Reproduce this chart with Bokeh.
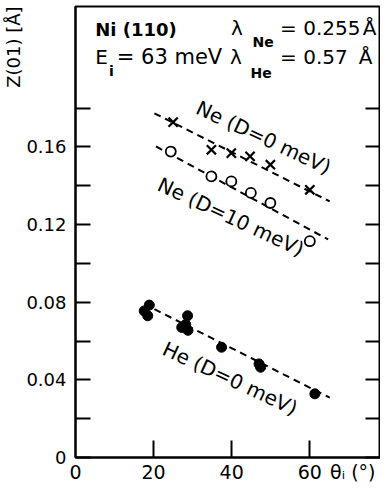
import math
from bokeh.plotting import figure
from bokeh.models import Label, FixedTicker, LinearAxis, Range1d, CustomJSTickFormatter, Title
from bokeh.embed import file_html
from bokeh.resources import INLINE

# ---- data ----
ne0_theta = [25.0, 34.8, 39.9, 44.7, 49.9, 60.0]
ne0_z = [0.1727, 0.1585, 0.1568, 0.1551, 0.1508, 0.1379]

ne10_theta = [24.4, 34.8, 39.9, 44.9, 49.9, 60.0]
ne10_z = [0.1576, 0.1448, 0.1422, 0.1363, 0.1311, 0.1114]

he_theta = [17.6, 18.9, 18.5, 28.7, 27.2, 28.8, 28.2, 37.4, 47.0, 47.4, 61.3]
he_z = [0.0755, 0.0785, 0.0730, 0.0730, 0.0670, 0.0655, 0.0685, 0.0568, 0.0482, 0.0465, 0.0328]

# fitted (dashed) lines, endpoints
ne0_fit_theta = [20.2, 65.1]
ne0_fit_z = [0.1773, 0.1319]
ne10_fit_theta = [20.6, 64.7]
ne10_fit_z = [0.1602, 0.1123]
he_fit_theta = [20.2, 65.1]
he_fit_z = [0.0764, 0.0308]

x_tick_marks = [20, 40, 60]
x_tick_labels = [0, 20, 40, 60]
x_title_pos = 71            # where the axis title sits, in the row of tick labels
y_label_ticks = [0, 0.04, 0.08, 0.12, 0.16]
y_minor_ticks = [0.02, 0.06, 0.10, 0.14, 0.18]

FONT = "DejaVu Sans"

# frame geometry (px): left edge 70, bottom edge 459, scales below
FL, FB, SX, SY = 70.0, 459.0, 3.97, 1950.0

p = figure(width=380, height=485, output_backend="svg", toolbar_location=None,
           x_range=Range1d(0, 78.1), y_range=Range1d(0, 0.2323),
           min_border_left=70, min_border_right=0, min_border_top=6,
           min_border_bottom=26)
p.xgrid.visible = False
p.ygrid.visible = False
p.outline_line_color = "black"
p.outline_line_width = 2
p.background_fill_color = "white"
p.border_fill_color = "white"

# x axis: labels from major ticks (no tick marks), marks from minor ticks
xa = p.xaxis[0]
xa.ticker = FixedTicker(ticks=x_tick_labels + [x_title_pos], minor_ticks=x_tick_marks)
xa.major_label_overrides = {x_title_pos: "θᵢ (°)"}
xa.major_tick_in = 0
xa.major_tick_out = 0
xa.minor_tick_in = 17
xa.minor_tick_out = 0
xa.minor_tick_line_width = 2
xa.axis_line_width = 2
xa.major_label_standoff = 3
xa.major_label_text_font = FONT
xa.major_label_text_font_size = "19px"
xa.major_label_text_color = "black"

# y axis
ya = p.yaxis[0]
ya.ticker = FixedTicker(ticks=y_label_ticks, minor_ticks=y_minor_ticks)
ya.major_tick_in = 15
ya.major_tick_out = 0
ya.minor_tick_in = 15
ya.minor_tick_out = 0
ya.major_tick_line_width = 2
ya.minor_tick_line_width = 2
ya.axis_line_width = 2
ya.major_label_standoff = 9
ya.major_label_text_font = FONT
ya.major_label_text_font_size = "18px"
ya.major_label_text_color = "black"
ya.major_label_overrides = {0: "0"}

# y axis title, at the top of the left side
p.add_layout(Title(text="Z(01) [Å]", align="right", standoff=0, text_font=FONT,
                   text_font_size="18px", text_font_style="normal", text_color="black"),
             "left")

# right axis (ticks only)
ra = LinearAxis(ticker=FixedTicker(ticks=y_label_ticks, minor_ticks=y_minor_ticks),
                formatter=CustomJSTickFormatter(code="return ''"))
ra.major_tick_in = 15
ra.major_tick_out = 0
ra.minor_tick_in = 15
ra.minor_tick_out = 0
ra.major_tick_line_width = 2
ra.minor_tick_line_width = 2
ra.axis_line_width = 2
ra.major_label_standoff = 0
p.add_layout(ra, "right")

# dashed fit lines
for fx, fz in [(ne0_fit_theta, ne0_fit_z), (ne10_fit_theta, ne10_fit_z), (he_fit_theta, he_fit_z)]:
    p.line(fx, fz, line_color="black", line_width=2, line_dash="7 5")

# data markers
p.scatter(ne0_theta, ne0_z, marker="x", size=13, line_color="black", line_width=2.2)
p.scatter(ne10_theta, ne10_z, marker="circle", size=10, line_color="black",
          fill_color="white", line_width=1.8)
p.scatter(he_theta, he_z, marker="circle", size=10, line_color="black", fill_color="black")


def lab(xp, yp, text, size=20, bold=False, angle_deg=0.0):
    """Place text whose baseline-left point is at pixel (xp, yp) of the picture."""
    a = math.radians(angle_deg)
    d = 0.346 * size  # baseline -> middle of the em box
    ux, uy = -math.sin(a), math.cos(a)  # text 'up' direction (y up)
    x = (xp + d * ux - FL) / SX
    y = (FB - yp + d * uy) / SY
    p.add_layout(Label(x=x, y=y, text=text, text_font=FONT, text_font_size=f"{size}px",
                       text_font_style="bold" if bold else "normal", text_color="black",
                       angle=a, text_align="left", text_baseline="middle"))


# header texts
lab(90, 35, "Ni (110)", size=18, bold=True)
lab(228, 35, "λ")
lab(250, 47, "Ne", size=14, bold=True)
lab(278, 35, "= 0.255")
lab(362, 35, "Å")
lab(90, 64, "E")
lab(104, 76, "i", size=14, bold=True)
lab(112, 64, "= 63 meV", size=21)
lab(227, 64, "λ")
lab(248, 78, "He", size=14, bold=True)
lab(278, 64, "= 0.57")
lab(358, 64, "Å")

# curve labels
lab(191, 113, "Ne (D=0 meV)", angle_deg=-25)
lab(152, 190, "Ne (D=10 meV)", angle_deg=-25)
lab(157, 355, "He (D=0 meV)", angle_deg=-25)

open("out.html", "w").write(file_html(p, INLINE))
